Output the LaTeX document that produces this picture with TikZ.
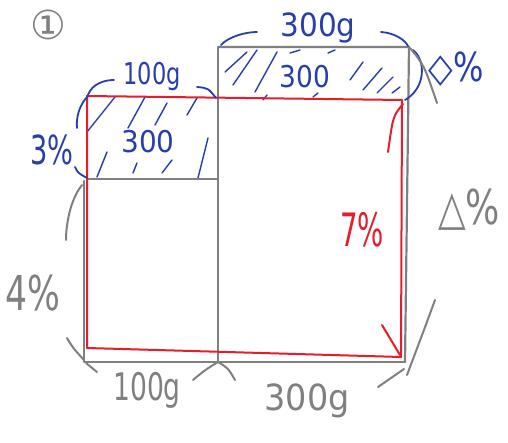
\documentclass[tikz,border=0pt]{standalone}
\usepackage{fontspec}
\setmainfont{DejaVu Sans}
\definecolor{pencil}{RGB}{128,128,128}
\definecolor{inkblue}{RGB}{40,62,175}
\definecolor{inkred}{RGB}{228,30,42}
\newcommand\hw[2]{\scalebox{#1}[1]{#2}}
\tikzset{
  grayline/.style={draw=pencil, line width=2.2pt, line cap=round, line join=round},
  redline/.style={draw=inkred, line width=2pt, line cap=round, line join=round},
  blueline/.style={draw=inkblue, line width=1.8pt, line cap=round},
  hatch/.style={draw=inkblue, line width=1.4pt, line cap=round},
  graybrace/.style={draw=pencil, line width=2pt, line cap=round},
  lbl/.style={anchor=base, inner sep=0pt, font=\fontsize{#1}{#1}\selectfont},
  bluelbl/.style={lbl=#1, text=inkblue},
  graylbl/.style={lbl=#1, text=pencil},
  redlbl/.style={lbl=#1, text=inkred}
}
\begin{document}
\begin{tikzpicture}[x=1pt,y=-1pt]
\useasboundingbox[fill=white] (0,0) rectangle (508,443);

% blue hatching, upper left region
\foreach \a/\b/\c/\d in {87/132/115/97, 97/177/107/152, 128/128/145/97, 155/125/167/103,
  187/115/197/98, 133/173/137/163, 162/173/172/160, 198/178/208/138}
  \draw[hatch] (\a,\b) -- (\c,\d);
% blue hatching, upper right region
\foreach \a/\b/\c/\d in {225/72/247/52, 233/85/257/50, 255/92/277/52, 290/53/300/50,
  263/100/267/95, 313/97/318/93, 328/53/335/50, 350/80/363/62, 363/90/382/68,
  377/93/393/77, 392/93/400/87}
  \draw[hatch] (\a,\b) -- (\c,\d);

% gray structure
\draw[grayline] (84,181) -- (84,362) -- (405,362);
\draw[grayline] (87,179) -- (218,179);
\draw[grayline] (218,47) -- (218,362);
\draw[grayline] (218,47) -- (409,47) -- (405,362);

% red rectangle
\draw[redline] (87,96) -- (87,348) -- (401,357) -- (402,100) -- cycle;
\draw[redline] (403,104) .. controls (393,116) .. (388,152);
\draw[redline] (382,325) -- (400,355);

% blue braces
\draw[blueline] (88,95) .. controls (92,84) and (104,80) .. (114,80);
\draw[blueline] (197,87) .. controls (208,88) .. (216,98);
\draw[blueline] (88,96) .. controls (79,105) and (76,118) .. (77,128);
\draw[blueline] (75,167) .. controls (78,173) .. (87,178);
\draw[blueline] (221,45) .. controls (228,37) and (245,32) .. (257,32);
\draw[blueline] (381,32) .. controls (395,33) and (405,40) .. (408,46);
\draw[blueline] (413,50) .. controls (426,60) and (426,88) .. (405,100);

% gray braces
\draw[graybrace] (410,48) .. controls (424,65) .. (437,103);
\draw[graybrace] (435,300) .. controls (424,330) .. (407,375);
\draw[graybrace] (82,185) .. controls (70,200) and (66,225) .. (66,240);
\draw[graybrace] (67,338) .. controls (73,348) .. (84,360);
\draw[graybrace] (86,363) -- (97,372);
\draw[graybrace] (193,380) .. controls (205,370) .. (218,362);
\draw[graybrace] (218,362) .. controls (228,368) .. (235,380);
\draw[graybrace] (378,387) -- (404,369);

% labels
\node[graylbl=40, anchor=center] (num) at (48,25) {①};
\node[bluelbl=30] (wa) at (152,85) {\hw{0.75}{100g}};
\node[bluelbl=30] (ca) at (148,153) {\hw{0.93}{300}};
\node[bluelbl=40] (pa) at (52,165) {\hw{0.68}{3\%}};
\node[bluelbl=32] (wb) at (318,37) {\hw{0.92}{300g}};
\node[bluelbl=30] (cb) at (305,88) {\hw{0.88}{300}};
\node[bluelbl=40] (pb) at (456,82) {\hw{0.8}{◇\%}};
\node[graylbl=48] (pc) at (469,225) {\hw{0.75}{△\%}};
\node[redlbl=46] (pr) at (362,247) {\hw{0.6}{7\%}};
\node[graylbl=48] (pd) at (33,310) {\hw{0.72}{4\%}};
\node[graylbl=38] (wc) at (147,400) {\hw{0.7}{100g}};
\node[graylbl=36] (wd) at (307,410) {\hw{0.93}{300g}};
\end{tikzpicture}
\end{document}
